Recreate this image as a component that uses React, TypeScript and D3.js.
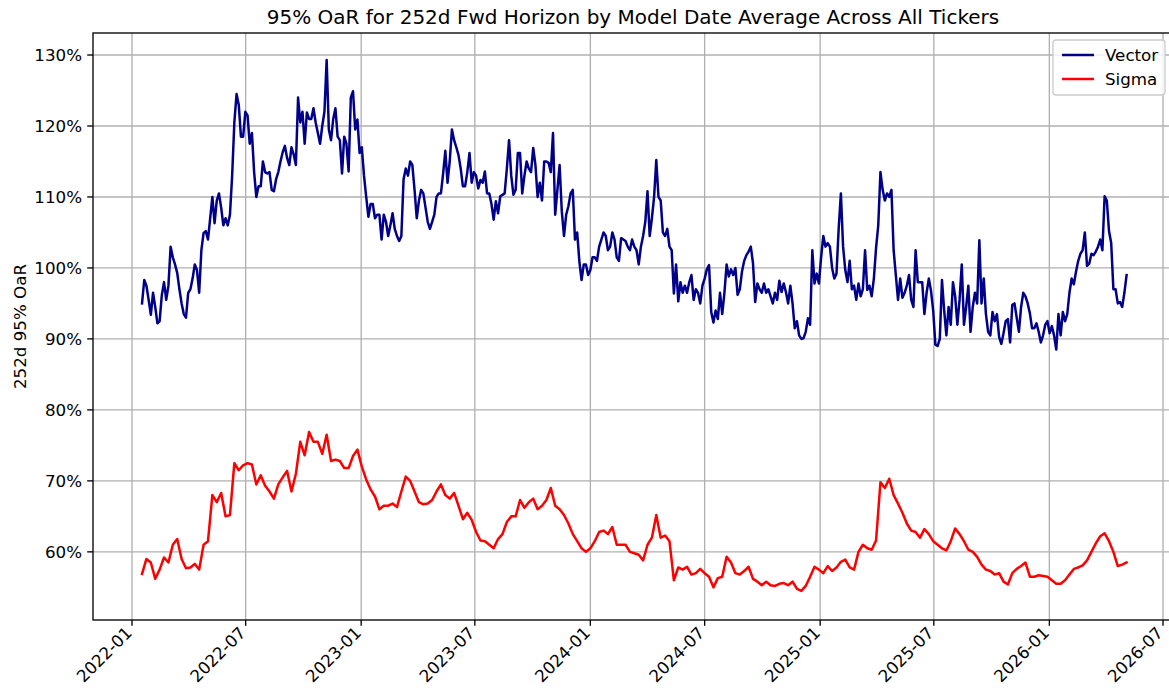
import React from 'react';
import * as d3 from 'd3';

// model dates start 2022-01-17; Vector is read twice a week, Sigma once a week
const startDate = new Date(2022, 0, 17);

// 252d 95% OaR, in percent, one value every half week
const vectorValues = [
  95.0, 98.3, 97.5, 95.5, 93.4, 96.5, 94.5, 92.2, 92.5, 96.2,
  98.0, 95.5, 97.5, 103.0, 101.5, 100.5, 99.3, 97.0, 95.0, 93.5,
  93.0, 96.5, 97.0, 98.5, 100.5, 99.7, 96.5, 102.5, 104.9, 105.2,
  104.0, 107.0, 110.0, 106.3, 109.5, 110.5, 108.5, 106.0, 107.0, 106.0,
  107.5, 113.0, 120.5, 124.5, 123.0, 118.5, 118.5, 122.0, 121.5, 117.5,
  119.0, 113.5, 110.0, 111.5, 111.5, 115.0, 113.5, 113.3, 113.5, 111.0,
  110.8, 112.5, 113.5, 115.0, 116.3, 117.2, 115.5, 114.5, 117.0, 116.0,
  114.5, 124.0, 120.5, 122.0, 117.5, 121.9, 121.0, 121.0, 122.5, 120.5,
  119.0, 117.5, 120.0, 122.0, 129.3, 119.5, 118.0, 121.0, 122.5, 118.5,
  118.0, 113.3, 118.5, 117.5, 113.6, 124.0, 124.9, 119.5, 120.9, 116.2,
  117.0, 113.0, 110.0, 107.2, 109.0, 109.0, 107.0, 107.5, 107.5, 104.0,
  107.5, 106.5, 104.5, 106.0, 107.7, 105.5, 104.5, 103.8, 104.5, 112.5,
  114.0, 113.0, 115.0, 114.5, 111.0, 107.0, 109.5, 111.0, 110.5, 108.5,
  106.5, 105.5, 106.5, 107.5, 110.0, 110.5, 110.5, 113.3, 116.5, 112.0,
  115.0, 119.5, 118.0, 117.0, 115.9, 114.0, 111.5, 111.5, 113.5, 116.2,
  112.0, 113.5, 113.0, 111.2, 112.4, 112.0, 113.6, 110.5, 110.5, 109.0,
  106.8, 109.4, 107.7, 110.1, 110.3, 110.5, 114.0, 118.0, 113.0, 110.3,
  111.0, 116.2, 116.2, 110.5, 113.0, 115.0, 114.0, 113.5, 116.9, 114.5,
  110.0, 112.0, 109.5, 115.0, 115.0, 114.8, 113.5, 119.0, 107.5, 111.0,
  114.5, 108.0, 104.5, 107.5, 108.7, 110.5, 111.0, 104.0, 105.0, 100.9,
  98.3, 100.5, 100.5, 99.0, 99.7, 101.5, 101.5, 101.0, 103.0, 104.0,
  105.0, 104.5, 102.5, 103.0, 105.0, 104.0, 101.5, 101.0, 104.2, 104.0,
  103.8, 103.0, 102.5, 104.0, 103.0, 102.5, 100.5, 103.0, 104.5, 106.5,
  110.8, 104.5, 107.0, 110.0, 115.2, 110.0, 109.5, 105.0, 104.5, 105.5,
  103.0, 102.5, 96.4, 100.5, 95.3, 98.0, 96.5, 97.5, 96.5, 98.0,
  99.0, 95.5, 97.0, 96.5, 95.0, 97.5, 98.5, 99.8, 100.4, 93.8,
  92.3, 94.0, 92.8, 96.5, 93.5, 96.5, 100.5, 98.8, 99.8, 99.0,
  100.0, 96.2, 97.0, 99.5, 101.0, 101.8, 102.3, 103.0, 100.7, 95.2,
  97.8, 97.0, 96.5, 97.8, 96.5, 97.0, 96.0, 95.0, 96.5, 95.5,
  98.2, 96.6, 97.8, 96.6, 95.0, 97.5, 95.0, 91.5, 92.5, 90.5,
  90.0, 90.1, 91.0, 92.9, 92.0, 102.5, 97.8, 99.2, 97.8, 101.5,
  104.5, 103.0, 103.5, 103.0, 100.0, 98.5, 99.2, 105.6, 110.5, 103.0,
  99.7, 98.0, 101.0, 97.0, 97.5, 95.5, 97.8, 96.0, 97.0, 102.5,
  96.9, 97.5, 96.0, 98.5, 102.8, 106.0, 113.5, 111.0, 109.5, 110.5,
  110.0, 111.0, 102.5, 99.0, 95.5, 98.5, 95.8, 96.5, 97.5, 99.0,
  95.5, 94.5, 102.5, 98.0, 98.0, 98.0, 93.5, 96.5, 98.5, 96.8,
  94.0, 89.2, 89.0, 90.0, 98.3, 94.0, 90.5, 94.5, 92.0, 98.0,
  96.0, 92.0, 95.5, 100.5, 92.0, 94.5, 97.5, 91.0, 94.5, 96.5,
  95.0, 103.9, 95.0, 98.5, 93.5, 91.0, 90.5, 93.8, 92.5, 93.5,
  90.3, 89.3, 90.8, 92.5, 92.8, 89.5, 94.8, 95.0, 93.0, 91.0,
  94.5, 96.5, 96.0, 95.0, 93.6, 91.5, 91.5, 92.2, 91.0, 89.5,
  90.5, 92.0, 92.5, 90.8, 91.8, 90.5, 88.5, 93.5, 90.5, 93.8,
  92.5, 93.5, 96.5, 98.5, 97.7, 99.5, 101.0, 102.0, 102.5, 105.0,
  100.3, 100.6, 102.0, 101.8, 102.3, 103.0, 104.0, 102.5, 110.1, 109.5,
  105.2, 103.5, 97.0, 97.0, 95.0, 95.2, 94.5, 96.5, 99.0,
];

// 252d 95% OaR, in percent, one value per week
const sigmaValues = [
  56.9, 59.0, 58.5, 56.2, 57.5, 59.2, 58.5, 61.0, 61.8, 59.0,
  57.7, 57.8, 58.3, 57.5, 61.0, 61.5, 68.0, 67.0, 68.3, 65.0,
  65.2, 72.5, 71.5, 72.2, 72.5, 72.3, 69.5, 70.8, 69.3, 68.5,
  67.5, 69.5, 70.5, 71.4, 68.5, 71.0, 75.5, 73.6, 76.9, 75.5,
  75.5, 73.8, 76.5, 72.8, 73.0, 72.8, 71.8, 71.8, 73.5, 74.4,
  72.0, 70.2, 68.8, 67.8, 66.0, 66.5, 66.5, 66.8, 66.3, 68.5,
  70.6, 70.0, 68.5, 67.0, 66.7, 66.8, 67.3, 68.5, 69.5, 68.0,
  67.5, 68.3, 66.5, 64.6, 65.5, 64.5, 62.8, 61.6, 61.5, 61.0,
  60.5, 61.8, 62.5, 64.2, 65.0, 65.0, 67.3, 66.2, 67.0, 67.5,
  66.0, 66.5, 67.3, 69.0, 66.5, 66.0, 65.2, 64.0, 62.5, 61.5,
  60.5, 60.0, 60.5, 61.5, 62.8, 63.0, 62.5, 63.5, 61.0, 61.0,
  61.0, 60.0, 59.8, 59.6, 58.8, 61.0, 62.0, 65.2, 62.0, 62.3,
  61.5, 56.0, 57.8, 57.5, 57.9, 56.8, 57.0, 57.6, 57.0, 56.5,
  55.0, 56.3, 56.5, 59.3, 58.5, 57.0, 56.8, 57.3, 57.9, 56.2,
  55.8, 55.3, 55.8, 55.3, 55.2, 55.5, 55.6, 55.3, 55.8, 54.8,
  54.5, 55.2, 56.5, 57.9, 57.5, 57.0, 58.0, 57.3, 57.8, 58.6,
  58.9, 57.8, 57.5, 60.0, 61.0, 60.5, 60.3, 61.6, 69.8, 69.0,
  70.3, 68.0, 66.8, 65.5, 64.0, 63.0, 62.8, 62.0, 63.2, 62.5,
  61.5, 61.0, 60.5, 60.2, 61.5, 63.3, 62.5, 61.5, 60.3, 60.0,
  59.3, 58.2, 57.5, 57.3, 56.8, 57.0, 55.8, 55.4, 57.0, 57.6,
  58.0, 58.5, 56.5, 56.5, 56.7, 56.6, 56.5, 56.0, 55.5, 55.5,
  56.0, 56.8, 57.6, 57.8, 58.1, 58.8, 60.0, 61.2, 62.2, 62.6,
  61.5, 60.0, 58.0, 58.2, 58.5,
];

const yTicks = [60, 70, 80, 90, 100, 110, 120, 130];
const xTickDates = ['2022-01', '2022-07', '2023-01', '2023-07', '2024-01', '2024-07', '2025-01', '2025-07', '2026-01', '2026-07'];

const seriesNames = ['Vector', 'Sigma'];
const seriesColors = ['#00008b', '#ff0000'];

const W = 1169;
const H = 696;
// right spine sits just past the picture's edge
const margin = { left: 93, right: 1173, top: 33, bottom: 620 };
const font = 'DejaVu Sans, sans-serif';
const fs = 16.7;

export default function App() {
  const parseMonth = d3.timeParse('%Y-%m');
  const vectorPts: [Date, number][] = vectorValues.map((v, i) => [d3.timeHour.offset(startDate, i * 84), v]);
  const sigmaPts: [Date, number][] = sigmaValues.map((v, i) => [d3.timeWeek.offset(startDate, i), v]);

  // calibrate on the tick positions, then stretch to the axes box
  const xCal = d3.scaleTime()
    .domain([new Date(2022, 0, 1), new Date(2026, 6, 1)])
    .range([132, 1163]);
  const x = d3.scaleTime()
    .domain([xCal.invert(margin.left), xCal.invert(margin.right)])
    .range([margin.left, margin.right]);
  const y = d3.scaleLinear().domain([50.4, 133.1]).range([margin.bottom, margin.top]);

  const line = d3.line<[Date, number]>()
    .x(d => x(d[0]))
    .y(d => y(d[1]));

  const allSeries = [vectorPts, sigmaPts];

  return (
    <svg width={W} height={H} style={{ position: 'absolute', left: 0, top: 0, background: '#fff' }} fontFamily={font}>
      <rect x={0} y={0} width={W} height={H} fill="#fff" />

      {/* grid */}
      {xTickDates.map(t => {
        const px = x(parseMonth(t)!);
        return <line key={'gx' + t} x1={px} x2={px} y1={margin.top} y2={margin.bottom} stroke="#b0b0b0" strokeWidth={1.33} />;
      })}
      {yTicks.map(t => (
        <line key={'gy' + t} x1={margin.left} x2={margin.right} y1={y(t)} y2={y(t)} stroke="#b0b0b0" strokeWidth={1.33} />
      ))}

      {/* series */}
      {allSeries.map((s, k) => (
        <path key={seriesNames[k]} d={line(s) || ''} fill="none" stroke={seriesColors[k]} strokeWidth={2.5} strokeLinejoin="round" strokeLinecap="square" />
      ))}

      {/* frame */}
      <rect x={margin.left} y={margin.top} width={margin.right - margin.left} height={margin.bottom - margin.top} fill="none" stroke="#000" strokeWidth={1.33} />

      {/* x axis */}
      {xTickDates.map(t => {
        const px = x(parseMonth(t)!);
        return (
          <g key={'xt' + t}>
            <line x1={px} x2={px} y1={margin.bottom} y2={margin.bottom + 5.8} stroke="#000" strokeWidth={1.33} />
            <text transform={`translate(${px + 1},${margin.bottom + 14}) rotate(-45)`} textAnchor="end" fontSize={fs} fill="#000">{t}</text>
          </g>
        );
      })}

      {/* y axis */}
      {yTicks.map(t => (
        <g key={'yt' + t}>
          <line x1={margin.left - 5.8} x2={margin.left} y1={y(t)} y2={y(t)} stroke="#000" strokeWidth={1.33} />
          <text x={margin.left - 11} y={y(t)} dy="0.35em" textAnchor="end" fontSize={fs} fill="#000">{t}%</text>
        </g>
      ))}

      <text transform={`translate(26,${(margin.top + margin.bottom) / 2}) rotate(-90)`} textAnchor="middle" fontSize={fs} fill="#000">252d 95% OaR</text>
      <text x={(margin.left + margin.right) / 2} y={24} textAnchor="middle" fontSize={20} fill="#000">95% OaR for 252d Fwd Horizon by Model Date Average Across All Tickers</text>

      {/* legend */}
      <g>
        <rect x={1053} y={40} width={112} height={55} rx={3} fill="#fff" fillOpacity={0.8} stroke="#cccccc" strokeWidth={1.33} />
        {seriesNames.map((n, k) => (
          <g key={'lg' + n}>
            <line x1={1062} x2={1094} y1={55 + k * 24} y2={55 + k * 24} stroke={seriesColors[k]} strokeWidth={2.5} />
            <text x={1105} y={55 + k * 24} dy="0.35em" fontSize={fs} fill="#000">{n}</text>
          </g>
        ))}
      </g>
    </svg>
  );
}
